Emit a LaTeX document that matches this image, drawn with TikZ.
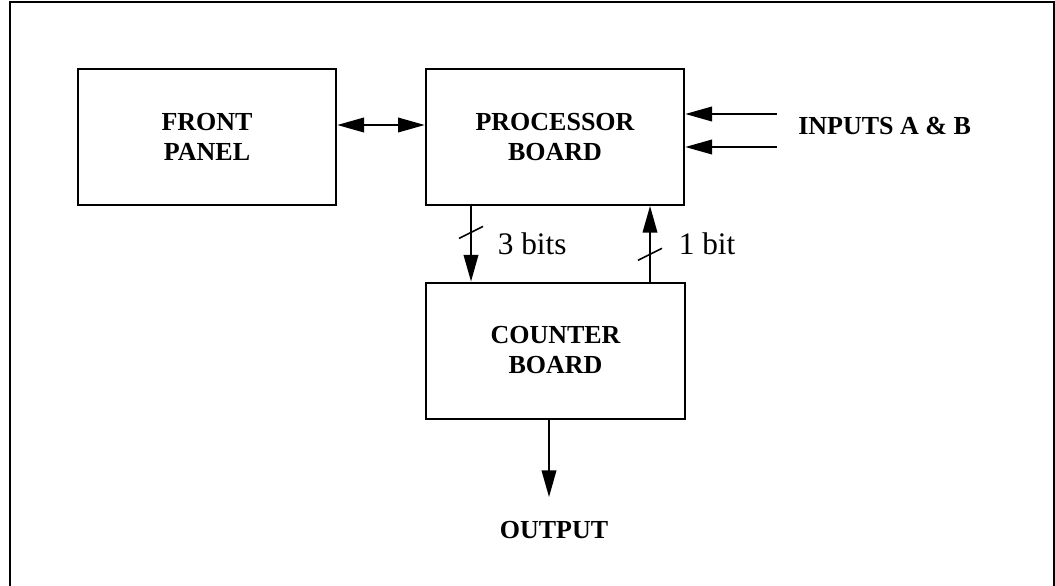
\documentclass[tikz,border=0pt]{standalone}
\usepackage{fontspec}
\setmainfont{Liberation Serif}
\usetikzlibrary{arrows.meta,calc}

\begin{document}
\begin{tikzpicture}[x=0.75pt, y=-0.75pt,
    board/.style={draw, line width=1.5pt, minimum width=194pt, minimum height=102pt,
      align=center, font=\fontsize{19.5}{22.5}\selectfont\bfseries},
    sig/.style={line width=1.2pt, -{Triangle[length=20pt,width=11pt]}},
    bitlbl/.style={font=\fontsize{23.5}{28}\selectfont, inner sep=0pt, anchor=west},
    iolbl/.style={font=\fontsize{19.5}{22.5}\selectfont\bfseries, inner sep=0pt}]
  \useasboundingbox (0,0) rectangle (1055,585);

  % outer frame
  \draw[line width=1.3pt] (10,600) -- (10,2) -- (1054,2) -- (1054,600);

  % boards
  \node[board] (front) at (207,137) {FRONT\\PANEL};
  \node[board] (proc) at (555,137) {PROCESSOR\\BOARD};
  \node[board] (counter) at (555.5,350.5) {COUNTER\\BOARD};

  % front panel <-> processor
  \draw[sig, {Triangle[length=20pt,width=11pt]}-{Triangle[length=20pt,width=11pt]}]
    ($(front.east)+(0,-12)$) -- ($(proc.west)+(0,-12)$);

  % inputs
  \coordinate (ina) at (777,114);
  \coordinate (inb) at (777,147);
  \draw[sig] (ina) -- (proc.east |- ina);
  \draw[sig] (inb) -- (proc.east |- inb);
  \node[iolbl, anchor=west] (inputs) at (798,126) {INPUTS A \& B};

  % processor -> counter, 3 bits
  \coordinate (pdn) at ($(proc.south)+(-84,0)$);
  \draw[sig] (pdn) -- coordinate[pos=0.35] (s3)
    node[bitlbl, pos=0.5, xshift=19.5pt] (lthree) {3 bits} (counter.north -| pdn);
  \draw[line width=1.2pt] ($(s3)+(-12,6)$) -- ($(s3)+(12,-6)$);

  % counter -> processor, 1 bit
  \coordinate (cup) at ($(counter.north)+(94.5,0)$);
  \draw[sig] (cup) -- coordinate[pos=0.36] (s1)
    node[bitlbl, pos=0.5, xshift=21pt] (lone) {1 bit} (proc.south -| cup);
  \draw[line width=1.2pt] ($(s1)+(-12,6)$) -- ($(s1)+(12,-6)$);

  % output
  \coordinate (oend) at (549,497);
  \draw[sig] (counter.south -| oend) -- (oend);
  \node[iolbl] (output) at (554,530) {OUTPUT};
\end{tikzpicture}
\end{document}
